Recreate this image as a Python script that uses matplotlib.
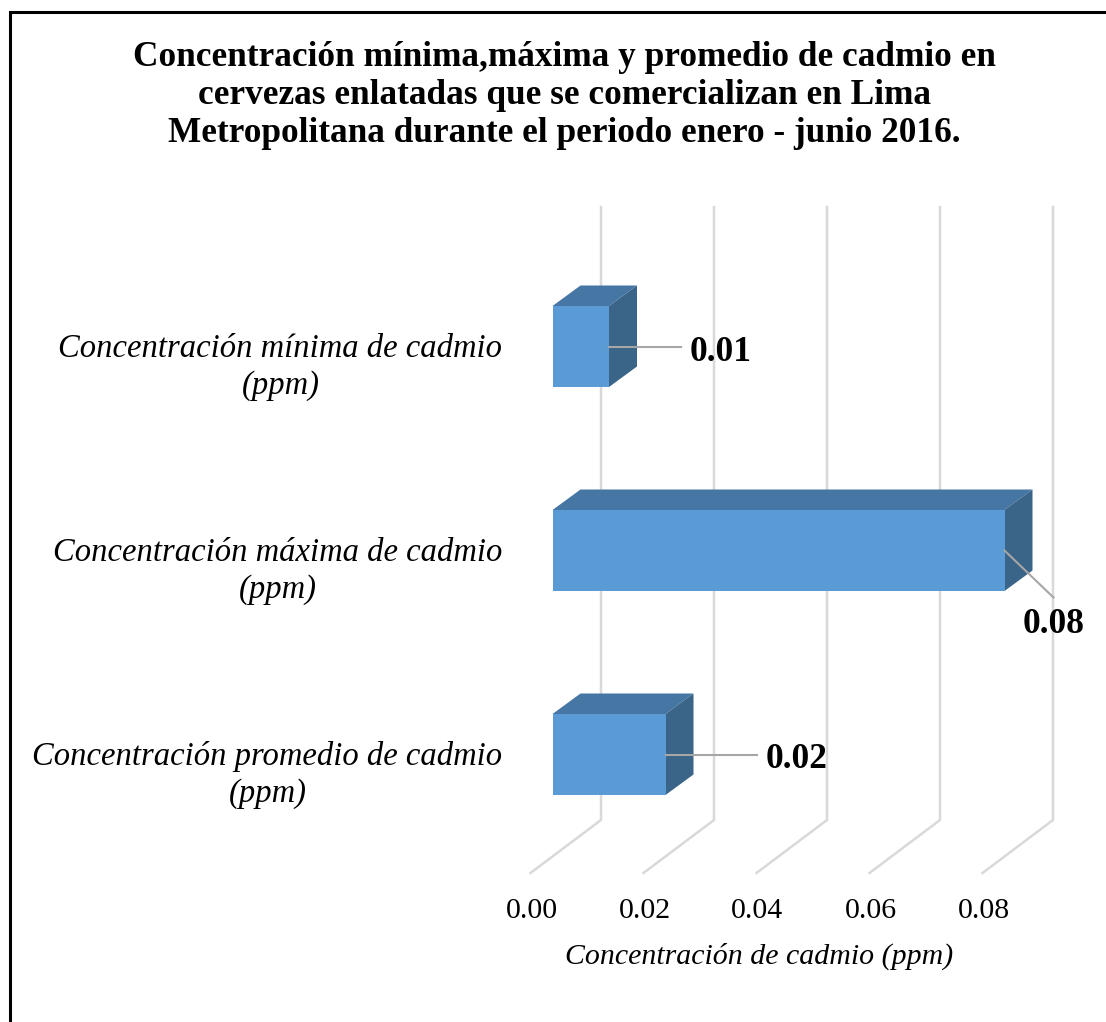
import matplotlib
matplotlib.use('Agg')
import matplotlib.pyplot as plt
from matplotlib.patches import Polygon

# datos, de abajo hacia arriba
categorias = ['Concentración promedio de cadmio\n(ppm)',
              'Concentración máxima de cadmio\n(ppm)',
              'Concentración mínima de cadmio\n(ppm)']
valores = [0.02, 0.08, 0.01]
ticks = [0.00, 0.02, 0.04, 0.06, 0.08]

titulo = ('Concentración mínima,máxima y promedio de cadmio en\n'
          'cervezas enlatadas que se comercializan en Lima\n'
          'Metropolitana durante el periodo enero - junio 2016.')
titulo_eje = 'Concentración de cadmio (ppm)'

W, H = 1106, 1022
SX = 5650.0   # px por ppm
SY = 204.0    # px por categoria
X0 = 552.5    # px del valor 0
Y0 = 754.5    # px de la categoria 0

plt.rcParams['font.family'] = ['Liberation Serif', 'DejaVu Serif']

fig = plt.figure(figsize=(W / 100, H / 100), dpi=100)
ax = fig.add_axes([0, 0, 1, 1])
ax.set_xlim(-X0 / SX, (W - X0) / SX)
ax.set_ylim((Y0 - H) / SY, Y0 / SY)
ax.axis('off')

dx = 28 / SX      # profundidad de la barra
dy = 20.5 / SY
alto = 81 / SY
pared_x = 48.5 / SX
piso_x = -22 / SX
pared_arriba = (Y0 - 207) / SY
pared_abajo = (Y0 - 820) / SY
piso_abajo = (Y0 - 873) / SY

for t in ticks:
    ax.plot([t + pared_x, t + pared_x, t + piso_x],
            [pared_arriba, pared_abajo, piso_abajo],
            color='#D9D9D9', lw=1.8, solid_joinstyle='miter', zorder=1)
    ax.text(t + piso_x + 1 / SX, (Y0 - 911) / SY, f'{t:.2f}', ha='center', va='center',
            fontsize=21.5, color='black')

for i, v in enumerate(valores):
    abajo = i - alto / 2
    arriba = i + alto / 2
    ax.add_patch(Polygon([(0, arriba), (v, arriba), (v + dx, arriba + dy), (dx, arriba + dy)],
                         facecolor='#4676A3', edgecolor='none', zorder=2))
    ax.add_patch(Polygon([(v, abajo), (v + dx, abajo + dy), (v + dx, arriba + dy), (v, arriba)],
                         facecolor='#3A6488', edgecolor='none', zorder=2))
    ax.barh(i, v, height=alto, color='#5B9BD5', zorder=3)
    ax.text(-50 / SX, i - 20.5 / SY, categorias[i], ha='right', va='center', ma='center',
            fontsize=23.5, style='italic', linespacing=1.26, color='black')

# lineas guia y etiquetas de datos
guia_x = [91 / SX, 49 / SX, 72 / SX]
guia_y = [0, -47 / SY, 0]
etiqueta_x = [131 / SX, 49 / SX, 112 / SX]
etiqueta_y = [-5 / SY, -74 / SY, -6 / SY]
for i, v in enumerate(valores):
    ax.plot([v, v + guia_x[i]], [i, i + guia_y[i]], color='#A6A6A6', lw=1.5, zorder=4)
    ax.text(v + etiqueta_x[i], i + etiqueta_y[i], f'{v:.2f}', ha='center', va='center',
            fontsize=25.5, fontweight='bold', zorder=5)

fig.text(564 / W, 1 - 95 / H, titulo, ha='center', va='center', ma='center',
         fontsize=25.4, fontweight='bold', linespacing=1.2)
fig.text(759 / W, 1 - 956 / H, titulo_eje, ha='center', va='center',
         fontsize=21.5, style='italic')

# marco del recuadro
fig.add_artist(plt.Line2D([10 / W, 10 / W, 1], [0, 1 - 12 / H, 1 - 12 / H],
                          color='black', lw=2.2, solid_joinstyle='miter'))

fig.savefig('out.png', dpi=100, facecolor='white')
